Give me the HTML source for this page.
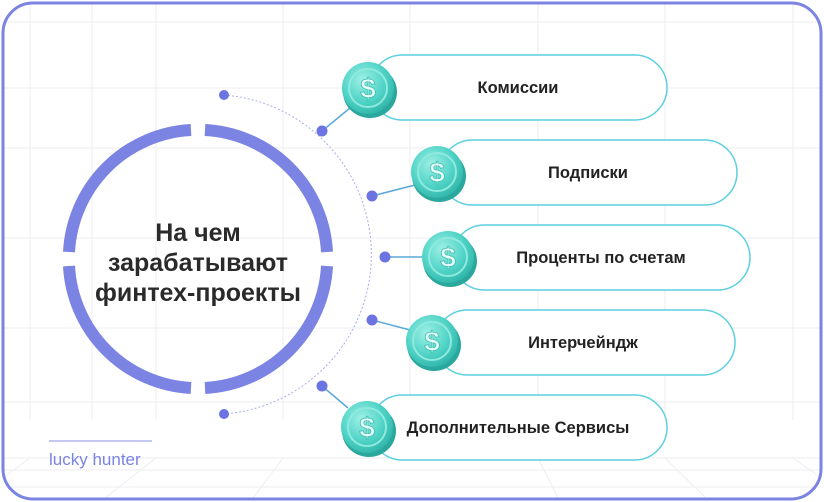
<!DOCTYPE html>
<html><head><meta charset="utf-8"><style>
html,body{margin:0;padding:0;background:#fff;}
svg{display:block;font-family:"Liberation Sans",sans-serif;}
</style></head><body>
<svg width="824" height="502" viewBox="0 0 824 502" xmlns="http://www.w3.org/2000/svg">
<defs>
<radialGradient id="cg" cx="40%" cy="35%" r="70%">
<stop offset="0" stop-color="#9ff0e6"/><stop offset="0.6" stop-color="#4fd3c6"/><stop offset="1" stop-color="#2fb3a8"/>
</radialGradient>
<clipPath id="cl"><rect x="3" y="3" width="818" height="496" rx="30"/></clipPath>
</defs>
<rect x="0" y="0" width="824" height="502" fill="#fff"/>
<g clip-path="url(#cl)" stroke="#eeeef2" stroke-width="1" fill="none">
<line x1="30" y1="0" x2="30" y2="420"/><line x1="92" y1="0" x2="92" y2="420"/><line x1="156" y1="0" x2="156" y2="420"/>
<line x1="283" y1="0" x2="283" y2="420"/><line x1="410" y1="0" x2="410" y2="420"/><line x1="538" y1="0" x2="538" y2="420"/>
<line x1="665" y1="0" x2="665" y2="420"/><line x1="793" y1="0" x2="793" y2="420"/>
<line x1="0" y1="22" x2="824" y2="22"/><line x1="0" y1="88" x2="824" y2="88"/><line x1="0" y1="148" x2="824" y2="148"/>
<line x1="0" y1="238" x2="824" y2="238"/><line x1="0" y1="328" x2="824" y2="328"/><line x1="0" y1="402" x2="824" y2="402"/>
<line x1="0" y1="458" x2="824" y2="458"/><line x1="0" y1="470" x2="824" y2="470"/><line x1="0" y1="487" x2="824" y2="487"/>
<line x1="30" y1="458" x2="0" y2="480"/><line x1="156" y1="458" x2="100" y2="502"/><line x1="283" y1="458" x2="250" y2="502"/>
<line x1="538" y1="458" x2="560" y2="502"/><line x1="665" y1="458" x2="710" y2="502"/><line x1="793" y1="458" x2="824" y2="480"/>
</g>
<rect x="3" y="3" width="818" height="496" rx="30" fill="none" stroke="#7b83e3" stroke-width="3"/>

<path d="M224,95 A160,160 0 0 1 224,414" fill="none" stroke="#a9acef" stroke-width="1" stroke-dasharray="2,2"/>

<g fill="none" stroke="#7b83e3" stroke-width="12">
<path d="M205,130 A129,129 0 0 1 327,252"/>
<path d="M327,266 A129,129 0 0 1 205,388"/>
<path d="M191,388 A129,129 0 0 1 69,266"/>
<path d="M69,252 A129,129 0 0 1 191,130"/>
</g>
<g font-weight="bold" font-size="25" fill="#2a2a2a" text-anchor="middle">
<text x="198" y="241">На чем</text>
<text x="198" y="271">зарабатывают</text>
<text x="198" y="301">финтех-проекты</text>
</g>

<g stroke="#5aa8d8" stroke-width="1.5">
<line x1="322" y1="131" x2="350" y2="108"/>
<line x1="372" y1="196" x2="415" y2="185"/>
<line x1="385" y1="257" x2="425" y2="257"/>
<line x1="372" y1="320" x2="410" y2="330"/>
<line x1="322" y1="386" x2="348" y2="408"/>
</g>
<g fill="#6b74e0">
<circle cx="224" cy="95" r="5"/><circle cx="322" cy="131" r="5.5"/><circle cx="372" cy="196" r="5.5"/>
<circle cx="385" cy="257" r="5.5"/><circle cx="372" cy="320" r="5.5"/><circle cx="322" cy="386" r="5.5"/><circle cx="224" cy="414" r="5"/>
</g>

<g fill="#fff" stroke="#5ccfe0" stroke-width="1.5">
<rect x="370" y="55" width="297" height="65" rx="32.5"/>
<rect x="440" y="140" width="297" height="65" rx="32.5"/>
<rect x="452" y="225" width="298" height="65" rx="32.5"/>
<rect x="435" y="310" width="300" height="65" rx="32.5"/>
<rect x="370" y="395" width="297" height="65" rx="32.5"/>
</g>
<g font-weight="bold" font-size="16.5" fill="#222" text-anchor="middle">
<text x="518" y="93">Комиссии</text>
<text x="588" y="178">Подписки</text>
<text x="601" y="263">Проценты по счетам</text>
<text x="583" y="348">Интерчейндж</text>
<text x="518" y="433">Дополнительные Сервисы</text>
</g>

<g>
<g transform="translate(368,88)"><ellipse cx="2" cy="4" rx="27" ry="26" fill="#2aa89e"/><circle r="26" fill="url(#cg)"/><circle r="19" fill="none" stroke="#8ee9df" stroke-width="2"/><text y="10" text-anchor="middle" font-size="28" font-weight="bold" fill="#e8fffb" stroke="#3bbdb2" stroke-width="0.8">$</text></g>
<g transform="translate(437,172)"><ellipse cx="2" cy="4" rx="27" ry="26" fill="#2aa89e"/><circle r="26" fill="url(#cg)"/><circle r="19" fill="none" stroke="#8ee9df" stroke-width="2"/><text y="10" text-anchor="middle" font-size="28" font-weight="bold" fill="#e8fffb" stroke="#3bbdb2" stroke-width="0.8">$</text></g>
<g transform="translate(448,257)"><ellipse cx="2" cy="4" rx="27" ry="26" fill="#2aa89e"/><circle r="26" fill="url(#cg)"/><circle r="19" fill="none" stroke="#8ee9df" stroke-width="2"/><text y="10" text-anchor="middle" font-size="28" font-weight="bold" fill="#e8fffb" stroke="#3bbdb2" stroke-width="0.8">$</text></g>
<g transform="translate(432,341)"><ellipse cx="2" cy="4" rx="27" ry="26" fill="#2aa89e"/><circle r="26" fill="url(#cg)"/><circle r="19" fill="none" stroke="#8ee9df" stroke-width="2"/><text y="10" text-anchor="middle" font-size="28" font-weight="bold" fill="#e8fffb" stroke="#3bbdb2" stroke-width="0.8">$</text></g>
<g transform="translate(367,427)"><ellipse cx="2" cy="4" rx="27" ry="26" fill="#2aa89e"/><circle r="26" fill="url(#cg)"/><circle r="19" fill="none" stroke="#8ee9df" stroke-width="2"/><text y="10" text-anchor="middle" font-size="28" font-weight="bold" fill="#e8fffb" stroke="#3bbdb2" stroke-width="0.8">$</text></g>
</g>

<line x1="49" y1="441" x2="152" y2="441" stroke="#8a90e0" stroke-width="1"/>
<text x="49" y="465" font-size="17" fill="#7b83e3">lucky hunter</text>
</svg>
</body></html>
